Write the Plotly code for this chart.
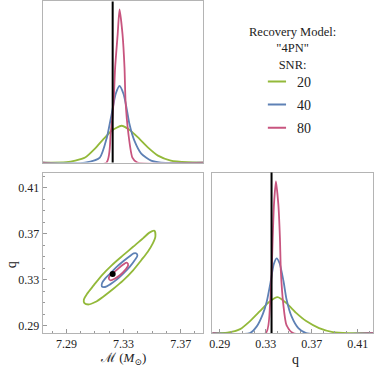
import plotly.graph_objects as go

FONT = "Liberation Serif, Times New Roman, DejaVu Serif, serif"
GREEN = "#93B93A"
BLUE = "#5E81B5"
PINK = "#C8557F"
FRAME = "#B4B4B4"

SNR_LABELS = ["20", "40", "80"]
SNR_COLORS = [GREEN, BLUE, PINK]

TRUE_MC = 7.3224
TRUE_Q = 0.335

MC_RANGE = [7.2734, 7.3859]
Q_RANGE = [0.2835, 0.4232]
MC_TICKS = [7.29, 7.33, 7.37]
Q_TICKS = [0.29, 0.33, 0.37, 0.41]

# marginal posterior of chirp mass (top-left panel), arbitrary density units
MC_GREEN = [7.2734, 7.2900, 7.2962, 7.3031, 7.3100, 7.3162, 7.3217, 7.3286,
            7.3341, 7.3403, 7.3472, 7.3541, 7.3631, 7.3748, 7.3859]
PDF_MC_GREEN = [0, 0.5, 2, 5, 14, 24, 32, 37, 33, 25, 15, 7, 2, 0.3, 0]

MC_BLUE = [7.2734, 7.3031, 7.3134, 7.3183, 7.3217, 7.3245, 7.3272, 7.3300,
           7.3321, 7.3341, 7.3376, 7.3424, 7.3493, 7.3562, 7.3859]
PDF_MC_BLUE = [0, 0, 5, 25, 49, 69, 77, 69, 55, 39, 22, 9, 2, 0, 0]

MC_PINK = [7.2734, 7.3180, 7.3210, 7.3231, 7.3241, 7.3259, 7.3272, 7.3293,
           7.3307, 7.3314, 7.3334, 7.3362, 7.3397, 7.3859]
PDF_MC_PINK = [0, 0, 29, 62, 95, 129, 154, 129, 95, 62, 29, 5, 0, 0]

# marginal posterior of mass ratio (bottom-right panel)
Q_GREEN = [0.2835, 0.2966, 0.3077, 0.3163, 0.3249, 0.3326, 0.3403, 0.3480,
           0.3566, 0.3651, 0.3763, 0.3883, 0.4020, 0.4232]
PDF_Q_GREEN = [0, 0.5, 4, 12, 22, 31, 36, 30, 20, 12, 5, 1, 0, 0]

Q_BLUE = [0.2835, 0.3163, 0.3223, 0.3274, 0.3309, 0.3343, 0.3369, 0.3394,
          0.3420, 0.3454, 0.3480, 0.3523, 0.3583, 0.3651, 0.4232]
PDF_Q_BLUE = [0, 0, 7, 19, 32, 52, 69, 75, 70, 52, 34, 17, 5, 0, 0]

Q_PINK = [0.2835, 0.3300, 0.3337, 0.3351, 0.3360, 0.3371, 0.3388, 0.3409,
          0.3423, 0.3431, 0.3452, 0.3480, 0.3537, 0.4232]
PDF_Q_PINK = [0, 0, 29, 62, 95, 129, 152, 129, 95, 62, 29, 8, 0, 0]

# joint posterior contours (bottom-left panel)
CONTOUR_MC_GREEN = [7.3516, 7.3523, 7.3505, 7.3470, 7.3424, 7.3367, 7.3298, 7.3229,
                    7.3160, 7.3102, 7.3057, 7.3026, 7.3022, 7.3045, 7.3091, 7.3148,
                    7.3217, 7.3298, 7.3367, 7.3436, 7.3481, 7.3516]
CONTOUR_Q_GREEN = [0.3726, 0.3674, 0.3615, 0.3543, 0.3469, 0.3381, 0.3294, 0.3221,
                   0.3154, 0.3105, 0.3084, 0.3096, 0.3125, 0.3177, 0.3250, 0.3338,
                   0.3425, 0.3513, 0.3586, 0.3659, 0.3709, 0.3726]

CONTOUR_MC_BLUE = [7.3390, 7.3397, 7.3378, 7.3343, 7.3298, 7.3252, 7.3206, 7.3171,
                   7.3148, 7.3150, 7.3171, 7.3206, 7.3252, 7.3298, 7.3343, 7.3371, 7.3390]
CONTOUR_Q_BLUE = [0.3528, 0.3508, 0.3469, 0.3411, 0.3353, 0.3300, 0.3259, 0.3236,
                  0.3241, 0.3271, 0.3309, 0.3353, 0.3411, 0.3460, 0.3504, 0.3528, 0.3528]

CONTOUR_MC_PINK = [7.3326, 7.3332, 7.3309, 7.3274, 7.3240, 7.3210, 7.3197, 7.3206,
                   7.3233, 7.3263, 7.3298, 7.3316, 7.3326]
CONTOUR_Q_PINK = [0.3446, 0.3425, 0.3381, 0.3338, 0.3309, 0.3294, 0.3309, 0.3338,
                  0.3364, 0.3396, 0.3431, 0.3446, 0.3446]

MC_MARGINALS = [(MC_GREEN, PDF_MC_GREEN), (MC_BLUE, PDF_MC_BLUE), (MC_PINK, PDF_MC_PINK)]
Q_MARGINALS = [(Q_GREEN, PDF_Q_GREEN), (Q_BLUE, PDF_Q_BLUE), (Q_PINK, PDF_Q_PINK)]
CONTOURS = [(CONTOUR_MC_GREEN, CONTOUR_Q_GREEN), (CONTOUR_MC_BLUE, CONTOUR_Q_BLUE),
            (CONTOUR_MC_PINK, CONTOUR_Q_PINK)]

W, H = 374, 367


def px_x(p):
    return p / W


def px_y(p):
    return 1 - p / H


fig = go.Figure()

for (mc, pdf), color in zip(MC_MARGINALS, SNR_COLORS):
    fig.add_trace(go.Scatter(x=mc, y=pdf, mode="lines", line=dict(color=color, width=1.8, shape="spline", smoothing=0.6),
                             xaxis="x2", yaxis="y2", showlegend=False))

for (q, pdf), color in zip(Q_MARGINALS, SNR_COLORS):
    fig.add_trace(go.Scatter(x=q, y=pdf, mode="lines", line=dict(color=color, width=1.8, shape="spline", smoothing=0.6),
                             xaxis="x3", yaxis="y3", showlegend=False))

for (mc, q), color in zip(CONTOURS, SNR_COLORS):
    fig.add_trace(go.Scatter(x=mc, y=q, mode="lines", line=dict(color=color, width=1.8, shape="spline", smoothing=0.8),
                             xaxis="x", yaxis="y", showlegend=False))

fig.add_trace(go.Scatter(x=[TRUE_MC], y=[TRUE_Q], mode="markers", marker=dict(color="black", size=6),
                         xaxis="x", yaxis="y", showlegend=False))

# legend-only entries with short line swatches
for label, color in zip(SNR_LABELS, SNR_COLORS):
    fig.add_trace(go.Scatter(x=[None], y=[None], mode="markers", name=label, legendgroup=label,
                             marker=dict(symbol="line-ew", size=13, line=dict(color=color, width=2))))

fig.add_shape(type="line", x0=TRUE_MC, x1=TRUE_MC, y0=0, y1=1, xref="x2", yref="y2 domain",
              line=dict(color="black", width=2))
fig.add_shape(type="line", x0=TRUE_Q, x1=TRUE_Q, y0=0, y1=1, xref="x3", yref="y3 domain",
              line=dict(color="black", width=2))

frame = dict(showline=True, linecolor=FRAME, linewidth=1, mirror=True, showgrid=False, zeroline=False)
tickfont = dict(family=FONT, size=12, color="#222")
minor = dict(ticks="inside", ticklen=2, tickcolor="#999", dtick=0.01)

left_dom = [px_x(40), px_x(202)]
right_dom = [px_x(211), px_x(373)]
top_dom = [px_y(162), px_y(0.5)]
bottom_dom = [px_y(333), px_y(172)]

fig.update_layout(
    width=W, height=H,
    margin=dict(l=0, r=0, t=0, b=0),
    plot_bgcolor="white", paper_bgcolor="white",
    font=dict(family=FONT, size=13, color="#222"),
    xaxis=dict(domain=left_dom, range=MC_RANGE, anchor="y", tickvals=MC_TICKS, ticktext=["7.29", "7.33", "7.37"],
               ticks="inside", ticklen=4, tickcolor="#999", minor=minor, tickfont=tickfont, **frame),
    yaxis=dict(domain=bottom_dom, range=Q_RANGE, anchor="x", tickvals=Q_TICKS, ticktext=["0.29", "0.33", "0.37", "0.41"],
               ticks="inside", ticklen=4, tickcolor="#999", minor=minor, tickfont=tickfont, **frame),
    xaxis2=dict(domain=left_dom, range=MC_RANGE, anchor="y2", showticklabels=False, **frame),
    yaxis2=dict(domain=top_dom, range=[0, 162], anchor="x2", showticklabels=False, **frame),
    xaxis3=dict(domain=right_dom, range=Q_RANGE, anchor="y3", tickvals=Q_TICKS, ticktext=["0.29", "0.33", "0.37", "0.41"],
                ticks="inside", ticklen=4, tickcolor="#999", minor=minor, tickfont=tickfont, **frame),
    yaxis3=dict(domain=bottom_dom, range=[0, 161], anchor="x3", showticklabels=False, **frame),
    legend=dict(x=px_x(256), y=px_y(65), xanchor="left", yanchor="top", tracegroupgap=2,
                font=dict(family=FONT, size=14, color="#222"), bgcolor="rgba(0,0,0,0)"),
    showlegend=True,
)

fig.add_annotation(text='Recovery Model:<br>"4PN"<br>SNR:', x=px_x(292), y=px_y(22), xref="paper", yref="paper",
                   xanchor="center", yanchor="top", showarrow=False, font=dict(family=FONT, size=12.5, color="#222"))
fig.add_annotation(text="ℳ (<i>M</i><sub>⊙</sub>)", x=px_x(121), y=px_y(358), xref="paper", yref="paper",
                   xanchor="center", yanchor="middle", showarrow=False, font=dict(family=FONT, size=13, color="#222"))
fig.add_annotation(text="q", x=px_x(295), y=px_y(359), xref="paper", yref="paper",
                   xanchor="center", yanchor="middle", showarrow=False, font=dict(family=FONT, size=14, color="#222"))
fig.add_annotation(text="q", x=px_x(8), y=px_y(264), xref="paper", yref="paper", textangle=-90,
                   xanchor="center", yanchor="middle", showarrow=False, font=dict(family=FONT, size=14, color="#222"))

# drop the browser's default body margin so the figure sits at the page corner
fig.write_html("out.html", config={"displayModeBar": False},
               post_script="document.body.style.margin='0';")
